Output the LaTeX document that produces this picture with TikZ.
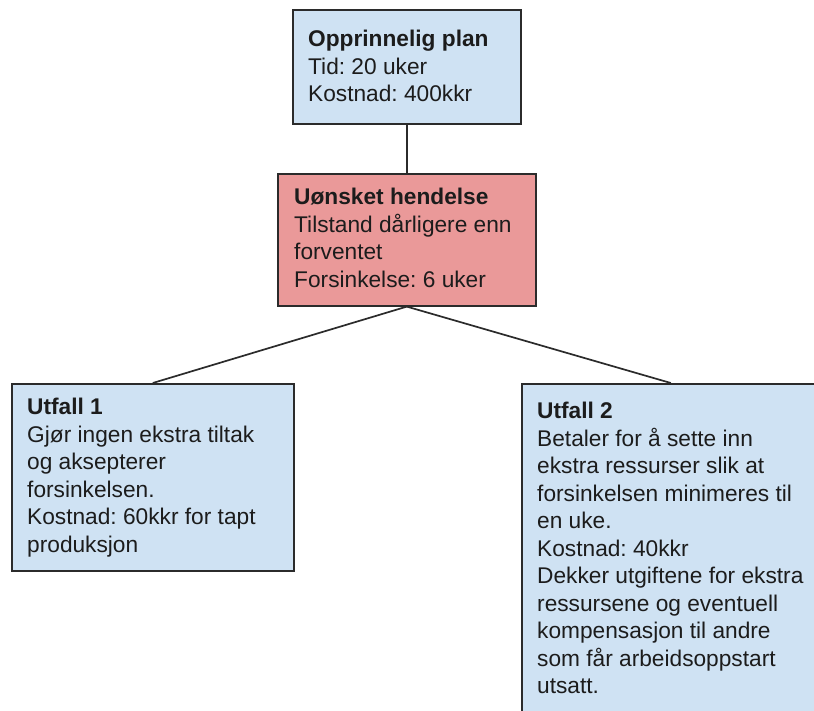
\documentclass[tikz,border=0pt]{standalone}
\usepackage{fontspec}
\setmainfont{Liberation Sans}
\frenchspacing
\definecolor{boxblue}{HTML}{CFE2F3}
\definecolor{boxred}{HTML}{EA9999}
\definecolor{edge}{HTML}{2B2B2B}
\definecolor{ink}{HTML}{1C1C1C}
\begin{document}
\begin{tikzpicture}[x=1pt,y=-1pt,
  card/.style={draw=edge, line width=1.6pt, inner sep=0pt, anchor=north west},
  bluecard/.style={card, fill=boxblue},
  redcard/.style={card, fill=boxred},
  txt/.style={anchor=north west, inner sep=0pt, align=left, text=ink,
    font=\fontsize{22.7}{27.5}\selectfont},
  link/.style={draw=edge, line width=1.7pt}]
\useasboundingbox (0,0) rectangle (814,711);
\clip (0,0) rectangle (814,711);

% boxes
\node[bluecard, minimum width=228pt, minimum height=114pt] (plan) at (292,9) {};
\node[redcard, minimum width=258pt, minimum height=132pt] (event) at (277,173) {};
\node[bluecard, minimum width=282pt, minimum height=187pt] (out1) at (11,383) {};
\node[bluecard, minimum width=298pt, minimum height=345pt] (out2) at (521,383) {};

% connectors
\draw[link] (plan.south) -- (event.north);
\draw[link] (event.south) -- (out1.north);
\draw[link] (event.south) -- (out2.north);

% texts
\node[txt] (plantext) at (308,30) {\textbf{Opprinnelig plan}\\Tid: 20 uker\\Kostnad: 400kkr};
\node[txt] (eventtext) at (294,188) {\textbf{Uønsket hendelse}\\Tilstand dårligere enn\\forventet\\Forsinkelse: 6 uker};
\node[txt] (out1text) at (27,398) {\textbf{Utfall 1}\\Gjør ingen ekstra tiltak\\og aksepterer\\forsinkelsen.\\Kostnad: 60kkr for tapt\\produksjon};
\node[txt] (out2text) at (537,402) {\textbf{Utfall 2}\\Betaler for å sette inn\\ekstra ressurser slik at\\forsinkelsen minimeres til\\en uke.\\Kostnad: 40kkr\\Dekker utgiftene for ekstra\\ressursene og eventuell\\kompensasjon til andre\\som får arbeidsoppstart\\utsatt.};
\end{tikzpicture}
\end{document}
